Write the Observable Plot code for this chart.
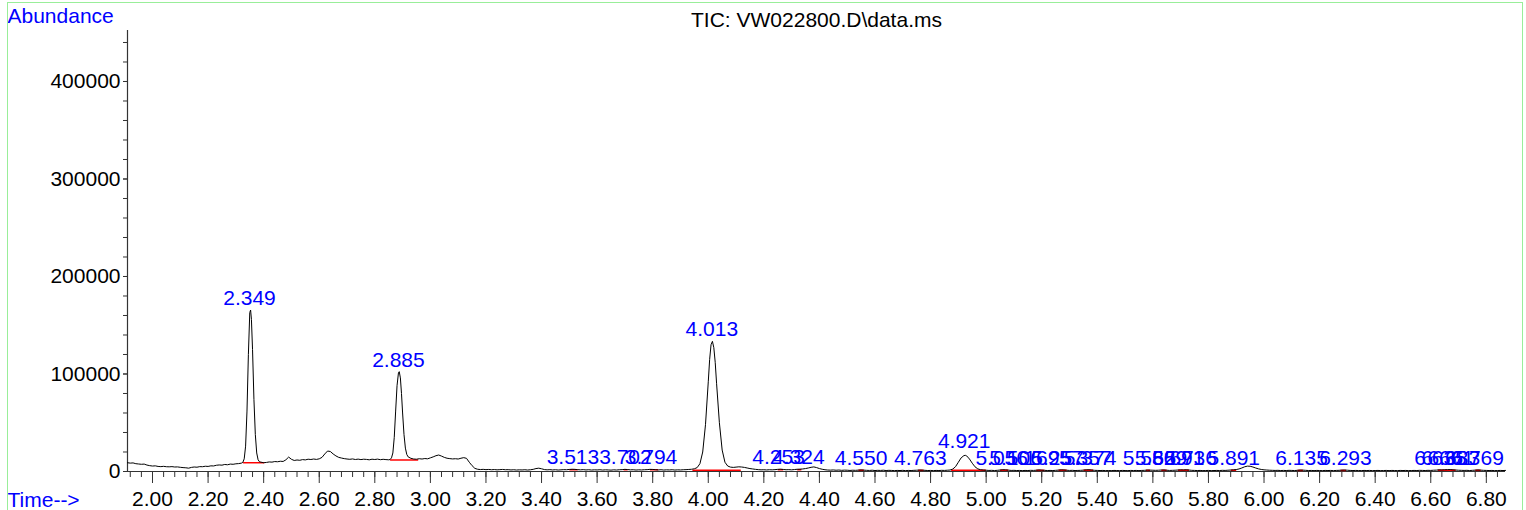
<!DOCTYPE html>
<html>
<head>
<meta charset="utf-8">
<script src="https://cdn.jsdelivr.net/npm/d3@7"></script>
<script src="https://cdn.jsdelivr.net/npm/@observablehq/plot@0.6"></script>
<style>
  html, body { margin: 0; padding: 0; background: #fff; overflow: hidden; }
  #wrap { position: relative; width: 1526px; height: 510px; }
  #border { position: absolute; left: 7px; top: 2px; width: 1516px; height: 530px; border: 1px solid #99ee99; box-sizing: border-box; pointer-events: none; }
  svg { display: block; }
</style>
</head>
<body>
<div id="wrap"><div id="border"></div></div>
<script>
// ---- Data ----
const chartTitle = "TIC: VW022800.D\\data.ms";
const yLabel = "Abundance";
const xLabel = "Time-->";

// TIC trace: [time (min), abundance]
const trace = [
[1.91,9000],[1.92,8600],[1.93,8800],[1.94,8000],[1.95,7700],[1.96,7400],[1.97,7600],[1.98,6600],[1.99,6000],
[2.00,5600],[2.01,5800],[2.02,5200],[2.03,5000],[2.04,5300],[2.05,4900],[2.06,4800],[2.07,5000],[2.08,4600],[2.09,4700],
[2.10,4300],[2.11,4000],[2.12,3800],[2.13,3400],[2.14,4200],[2.15,4600],[2.16,4400],[2.17,5000],[2.18,4900],[2.19,5400],
[2.20,5200],[2.21,5800],[2.22,5700],[2.23,6400],[2.24,6700],[2.25,6500],[2.26,7200],[2.27,6900],[2.28,7600],[2.29,7400],
[2.30,7900],[2.31,8100],[2.32,8600],[2.325,9300],[2.330,13000],[2.335,26000],[2.340,62000],[2.345,120000],[2.350,163000],
[2.353,165600],[2.356,156000],[2.360,125000],[2.365,74000],[2.370,38000],[2.375,19000],[2.380,12000],[2.385,10000],
[2.39,9600],[2.40,9000],[2.41,9300],[2.42,9800],[2.43,9600],[2.44,10200],[2.45,10000],[2.46,10500],[2.47,10300],[2.48,12000],
[2.49,14800],[2.50,12500],[2.51,11300],[2.52,11800],[2.53,11500],[2.54,12200],[2.55,11900],[2.56,12600],[2.57,12300],[2.58,12800],
[2.59,12400],[2.60,13000],[2.61,14500],[2.62,18000],[2.63,21000],[2.64,20500],[2.65,18000],[2.66,16000],[2.67,14500],[2.68,13800],
[2.69,13200],[2.70,12800],[2.71,12500],[2.72,12900],[2.73,12300],[2.74,12700],[2.75,12200],[2.76,12600],[2.77,12400],[2.78,12000],
[2.79,12600],[2.80,12300],[2.81,12700],[2.82,12100],[2.83,12500],[2.84,12200],[2.85,12000],[2.855,12300],[2.860,14000],
[2.865,19000],[2.870,35000],[2.875,62000],[2.880,88000],[2.885,101000],[2.888,102400],[2.892,96000],[2.896,80000],[2.900,60000],
[2.905,38000],[2.910,24000],[2.915,17500],[2.92,15000],[2.93,13500],[2.94,12800],[2.95,12600],[2.96,13100],[2.97,12800],
[2.98,13300],[2.99,13000],[3.00,14000],[3.01,15000],[3.02,16200],[3.03,16900],[3.04,15800],[3.05,14500],[3.06,13600],[3.07,13200],
[3.08,12900],[3.09,13100],[3.10,12800],[3.11,13600],[3.12,14200],[3.13,13500],[3.14,9500],[3.15,6000],[3.16,3200],[3.17,2300],
[3.18,2000],[3.19,2200],[3.20,1900],[3.21,2100],[3.22,1800],[3.23,2000],[3.24,1700],[3.25,1900],[3.26,2100],[3.27,1800],[3.28,1900],
[3.29,1600],[3.30,1800],[3.31,1500],[3.32,1700],[3.33,1600],[3.34,1800],[3.35,1500],[3.36,1800],[3.37,2200],[3.38,3000],[3.39,3400],
[3.40,2800],[3.41,2000],[3.42,1700],[3.43,1900],[3.44,1600],[3.45,1800],[3.46,1500],[3.47,1700],[3.48,1900],[3.49,1800],[3.50,2100],
[3.51,2300],[3.52,2200],[3.53,1900],[3.54,1700],[3.55,1900],[3.56,1600],[3.57,1800],[3.58,1500],[3.59,1700],[3.60,1600],[3.61,1800],
[3.62,1500],[3.63,1700],[3.64,1600],[3.65,1400],[3.66,1700],[3.67,1500],[3.68,1800],[3.69,1900],[3.70,2200],[3.71,2000],[3.72,1700],
[3.73,1800],[3.74,1500],[3.75,1700],[3.76,1600],[3.77,1800],[3.78,1900],[3.79,2200],[3.80,2100],[3.81,1800],[3.82,1600],[3.83,1800],
[3.84,1500],[3.85,1700],[3.86,1600],[3.87,1800],[3.88,1500],[3.89,1700],[3.90,1600],[3.91,1800],[3.92,1900],[3.93,2100],[3.94,2300],
[3.950,2800],[3.960,4000],[3.970,8000],[3.980,20000],[3.990,48000],[4.000,92000],[4.005,115000],[4.010,130000],[4.015,133500],
[4.020,127000],[4.025,112000],[4.030,90000],[4.040,50000],[4.050,22000],[4.060,9500],[4.070,5600],[4.080,4500],[4.09,4200],
[4.10,4500],[4.11,4800],[4.12,4600],[4.13,4200],[4.14,3600],[4.15,3000],[4.16,2600],[4.17,2200],[4.18,1900],[4.19,1700],[4.20,1800],
[4.21,1600],[4.22,1800],[4.23,1700],[4.24,1900],[4.25,2200],[4.26,2400],[4.27,2100],[4.28,1800],[4.29,1900],[4.30,1700],[4.31,2000],
[4.32,2300],[4.33,2400],[4.34,2600],[4.35,3000],[4.36,3600],[4.37,4300],[4.38,4700],[4.39,4000],[4.40,3000],[4.41,2300],[4.42,1800],
[4.43,1500],[4.44,1400],[4.45,1600],[4.46,1300],[4.47,1500],[4.48,1200],[4.49,1400],[4.50,1300],[4.51,1100],[4.52,1300],[4.53,1200],
[4.54,1400],[4.55,1600],[4.56,1400],[4.57,1200],[4.58,1100],[4.59,1300],[4.60,1000],[4.61,1200],[4.62,1100],[4.63,1300],[4.64,1000],
[4.65,1200],[4.66,1100],[4.67,900],[4.68,1100],[4.69,1000],[4.70,1200],[4.71,900],[4.72,1100],[4.73,1000],[4.74,1200],[4.75,1300],
[4.76,1500],[4.77,1400],[4.78,1200],[4.79,1000],[4.80,1100],[4.81,900],[4.82,1100],[4.83,1000],[4.84,1200],[4.85,1100],[4.86,1300],
[4.87,1500],[4.88,2500],[4.89,5000],[4.90,9500],[4.91,14000],[4.92,16300],[4.925,16600],[4.93,16000],[4.94,12800],[4.95,8500],
[4.96,4800],[4.97,2700],[4.98,1800],[4.99,1500],[5.00,1300],[5.01,1100],[5.02,1200],[5.03,1000],[5.04,1200],[5.05,1500],[5.06,1800],
[5.07,1700],[5.08,1400],[5.09,1100],[5.10,1200],[5.11,1000],[5.12,1100],[5.13,900],[5.14,1100],[5.15,1000],[5.16,1200],[5.17,1100],
[5.18,1300],[5.19,1600],[5.20,1400],[5.21,1200],[5.22,1000],[5.23,1100],[5.24,1000],[5.25,1200],[5.26,1400],[5.27,1700],[5.28,1600],
[5.29,1300],[5.30,1100],[5.31,1200],[5.32,1000],[5.33,1100],[5.34,1200],[5.35,1400],[5.36,1700],[5.37,1800],[5.38,1500],[5.39,1200],
[5.40,1100],[5.41,1000],[5.42,1100],[5.43,900],[5.44,1000],[5.45,900],[5.46,1100],[5.47,1000],[5.48,900],[5.49,1100],[5.50,1000],
[5.51,900],[5.52,1100],[5.53,1000],[5.54,1100],[5.55,900],[5.56,1100],[5.57,1200],[5.58,1500],[5.59,1400],[5.60,1300],[5.61,1200],
[5.62,1300],[5.63,1500],[5.64,1600],[5.65,1300],[5.66,1100],[5.67,1200],[5.68,1300],[5.69,1500],[5.70,1700],[5.71,1600],[5.72,1800],
[5.73,1500],[5.74,1200],[5.75,1100],[5.76,1000],[5.77,1100],[5.78,900],[5.79,1000],[5.80,1100],[5.81,900],[5.82,1000],[5.83,1100],
[5.84,1000],[5.85,1200],[5.86,1100],[5.87,1300],[5.88,1500],[5.89,1700],[5.90,2000],[5.91,2600],[5.92,3600],[5.93,4800],[5.94,5500],
[5.95,5400],[5.96,4600],[5.97,3600],[5.98,2700],[5.99,2100],[6.00,1700],[6.01,1500],[6.02,1300],[6.03,1200],[6.04,1100],[6.05,1200],
[6.06,1000],[6.07,1100],[6.08,1000],[6.09,1200],[6.10,1100],[6.11,1000],[6.12,1200],[6.13,1500],[6.14,1400],[6.15,1200],[6.16,1000],
[6.17,1100],[6.18,900],[6.19,1100],[6.20,1000],[6.21,900],[6.22,1100],[6.23,1000],[6.24,1100],[6.25,900],[6.26,1100],[6.27,1200],
[6.28,1400],[6.29,1500],[6.30,1300],[6.31,1100],[6.32,1000],[6.33,1100],[6.34,1000],[6.35,900],[6.36,1100],[6.37,1000],[6.38,1100],
[6.39,900],[6.40,1000],[6.41,1100],[6.42,900],[6.43,1000],[6.44,1100],[6.45,900],[6.46,1100],[6.47,1000],[6.48,900],[6.49,1100],
[6.50,1000],[6.51,1100],[6.52,900],[6.53,1000],[6.54,1100],[6.55,1000],[6.56,1200],[6.57,1100],[6.58,1000],[6.59,1200],[6.60,1100],
[6.61,1300],[6.62,1400],[6.63,1700],[6.64,1600],[6.65,1800],[6.66,1900],[6.67,2000],[6.68,1700],[6.69,1500],[6.70,1300],[6.71,1200],
[6.72,1100],[6.73,1200],[6.74,1000],[6.75,1200],[6.76,1400],[6.77,1600],[6.78,1400],[6.79,1200],[6.80,1100],[6.81,1000],[6.82,1100],
[6.83,900],[6.84,1000],[6.85,1100],[6.86,1000],[6.869,1100]
];

// Integrated peaks: labels (retention times) and label anchor heights
const peakLabels = ["2.349","2.885","3.513","3.702","3.794","4.013","4.253","4.324","4.550","4.763","4.921",
  "5.056","5.106","5.169","5.257","5.357","5.374","5.586","5.629","5.691","5.736","5.891",
  "6.135","6.293","6.635","6.661","6.683","6.769"];
const peakHeights = [165600,102400,2300,2300,2300,133500,2300,2300,1600,1600,18500,
  1600,1600,1600,1600,1600,1600,1600,1600,1600,1600,1600,
  1600,1600,1600,1600,1600,1600];

// Integration baselines: start time, end time, level
const baseStart = [2.326,2.855,3.943,3.500,3.695,3.790,4.250,4.320,4.540,4.755,4.874,5.050,5.180,5.260,5.350,5.575,5.630,5.690,5.880,6.120,6.275,6.625,6.760];
const baseEnd   = [2.402,2.956,4.117,3.530,3.710,3.820,4.270,4.335,4.560,4.775,4.999,5.080,5.210,5.290,5.385,5.590,5.650,5.730,5.900,6.140,6.295,6.690,6.780];
const baseLevel = [9000,11800,1200,1800,1800,1800,1800,1800,1300,1200,1400,1300,1200,1300,1300,1200,1200,1300,1300,1100,1100,1300,1200];

// Axes
const timeTicks = [2.00,2.20,2.40,2.60,2.80,3.00,3.20,3.40,3.60,3.80,4.00,4.20,4.40,4.60,4.80,5.00,5.20,5.40,5.60,5.80,6.00,6.20,6.40,6.60,6.80];
const abundanceTicks = [0,100000,200000,300000,400000];
const xDomain = [1.910, 6.869];
const yDomain = [0, 452300];

// ---- Build ----
const traceData = trace.map(([t, v]) => ({t, v}));
const peaks = peakLabels.map((s, i) => ({t: +s, label: s, h: peakHeights[i]}));
const bases = baseStart.map((s, i) => ({x1: s, x2: baseEnd[i], y: baseLevel[i]}));
const minorX = d3.range(1.92, 6.86, 0.04).map(d => +d.toFixed(2));
const minorY = d3.range(0, 452000, 20000);
const FONT = "Liberation Sans, Arial, Helvetica, sans-serif";
const FS = 21;

const chart = Plot.plot({
  width: 1526,
  height: 510,
  marginLeft: 127,
  marginRight: 21,
  marginTop: 30,
  marginBottom: 39,
  style: {fontFamily: FONT, fontSize: FS + "px", color: "#000", background: "transparent"},
  x: {domain: xDomain},
  y: {domain: yDomain},
  marks: [
    // axis lines
    Plot.ruleX([xDomain[0]], {stroke: "#333", strokeWidth: 1.2}),
    Plot.ruleY([0], {stroke: "#333", strokeWidth: 1.2}),
    // x axis: minor ticks, then major labelled ticks
    Plot.axisX({ticks: minorX, tickSize: 6, tickFormat: () => "", stroke: "#333", label: null}),
    Plot.axisX({ticks: timeTicks, tickSize: 12, tickPadding: 8, tickFormat: d => d.toFixed(2), stroke: "#333", fill: "#000", label: null, fontSize: FS}),
    // y axis: minor ticks, then labelled ticks
    Plot.axisY({ticks: minorY, tickSize: 4, tickFormat: () => "", stroke: "#333", label: null}),
    Plot.axisY({ticks: abundanceTicks, tickSize: 4, tickPadding: 3, tickFormat: d => String(d), stroke: "#333", fill: "#000", label: null, fontSize: FS}),
    // integration baselines
    Plot.link(bases, {x1: "x1", x2: "x2", y1: "y", y2: "y", stroke: "#ff0000", strokeWidth: 1.5}),
    // trace
    Plot.line(traceData, {x: "t", y: "v", stroke: "#000", strokeWidth: 1}),
    // peak labels
    Plot.text(peaks, {x: "t", y: "h", text: "label", fill: "#0000ff", fontSize: FS, lineAnchor: "bottom", dy: -5}),
    // titles
    Plot.text([yLabel], {frameAnchor: "top-left", text: d => d, dx: -120, dy: -8, lineAnchor: "bottom", textAnchor: "start", fill: "#0000ff", fontSize: FS}),
    Plot.text([chartTitle], {frameAnchor: "top", text: d => d, dy: -4, lineAnchor: "bottom", fill: "#000", fontSize: FS}),
    Plot.text([xLabel], {frameAnchor: "bottom-left", text: d => d, dx: -120, dy: 35, lineAnchor: "bottom", textAnchor: "start", fill: "#0000ff", fontSize: FS})
  ]
});
document.getElementById("wrap").prepend(chart);
</script>
</body>
</html>
